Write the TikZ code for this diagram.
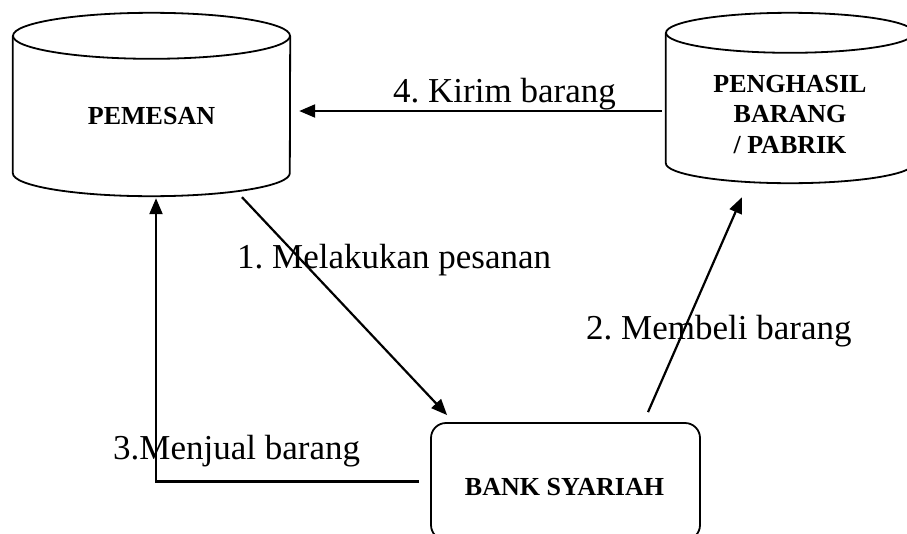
\documentclass[tikz,border=0pt]{standalone}
\usepackage{fontspec}
\setmainfont{Liberation Serif}
\usetikzlibrary{arrows.meta}
\frenchspacing

\begin{document}
\begin{tikzpicture}[x=1pt, y=1pt,
    garis/.style = {line width=1.8pt},
    panah/.style = {line width=2.2pt, -{Triangle[length=16pt, width=13pt]}},
    wadah/.style = {inner sep=0pt, minimum width=#1},
    judul/.style = {font=\fontsize{26}{30.5}\selectfont\bfseries, align=center, inner sep=0pt},
    keterangan/.style = {font=\fontsize{35}{42}\selectfont, anchor=base west, inner sep=0pt}]
    \useasboundingbox (0,0) rectangle (907,-533);

    \node[wadah=277pt, minimum height=183pt] (pemesan) at (151.5,-104.5) {};
    \node[wadah=248pt, minimum height=170pt] (penghasil) at (790,-98) {};
    \node[wadah=269pt, minimum height=117pt, draw, garis, rounded corners=15pt] (bank) at (565.5,-481.5) {};

    \foreach \n/\rx/\ry in {pemesan/138.5/23, penghasil/124/20}
    {\draw[garis] ([yshift=-\ry pt]\n.north) ellipse [x radius=\rx, y radius=\ry];
      \draw[garis] ([yshift=-\ry pt]\n.north west) -- ([yshift=\ry pt]\n.south west)
      arc[start angle=180, end angle=360, x radius=\rx, y radius=\ry]
      -- ([yshift=-\ry pt]\n.north east);
    }

    \node[judul] (tekspemesan) at (151.5,-116.5) {PEMESAN};
    \node[judul] (tekspenghasil) at (790,-114.5) {PENGHASIL\\BARANG\\/ PABRIK};
    \node[judul] (teksbank) at (564.5,-487.5) {BANK SYARIAH};

    \node[keterangan] (kirim) at (393,-102) {4. Kirim barang};
    \node[keterangan] (pesan) at (237,-268) {1. Melakukan pesanan};
    \node[keterangan] (beli) at (586,-339) {2. Membeli barang};
    \node[keterangan] (jual) at (113,-459) {3.Menjual barang};

    \draw[panah] ([shift={(-4,-13)}]penghasil.west) -- ([shift={(9,-6.5)}]pemesan.east);
    \draw[panah] ([shift={(90.5,-1)}]pemesan.south) -- ([shift={(17,7)}]bank.north west);
    \draw[panah] ([shift={(82.5,10)}]bank.north) -- ([shift={(-48,-14)}]penghasil.south);
    \draw[panah] ([xshift=-11pt]bank.west) -| ([shift={(4.5,-2)}]pemesan.south);
  \end{tikzpicture}
\end{document}
